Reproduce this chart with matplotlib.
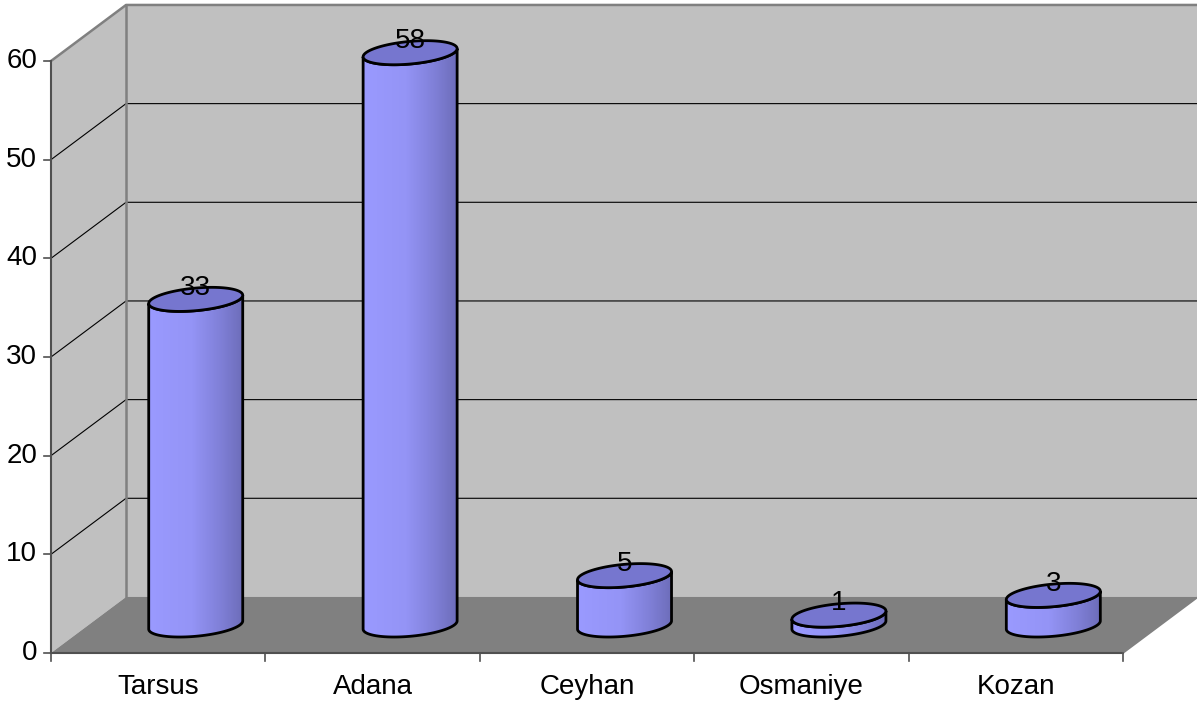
import numpy as np
import matplotlib
matplotlib.use("Agg")
import matplotlib.pyplot as plt
from matplotlib.patches import Polygon
from matplotlib.colors import LinearSegmentedColormap

plt.rcParams['font.family'] = ['Liberation Sans', 'DejaVu Sans']

categories = ['Tarsus', 'Adana', 'Ceyhan', 'Osmaniye', 'Kozan']
values = [33, 58, 5, 1, 3]
yticks = [0, 10, 20, 30, 40, 50, 60]
ymax = 60

# 3d look: depth offset in data units (x in categories, y in values)
DX, DY = 0.35, 5.68
# cylinder cross-section (oblique projected circle)
A, B, C = 0.206, 0.075, 1.22

W, H = 1197, 704
fig = plt.figure(figsize=(W / 100, H / 100), dpi=100)
ax = fig.add_axes([0, 0, 1, 1])
ax.axis('off')

n = len(categories)
wall = '#c0c0c0'
edge = '#808080'
fs = 20

# walls and floor
ax.add_patch(Polygon([(0, 0), (DX, DY), (DX, ymax + DY), (0, ymax)], fc=wall, ec='none', zorder=1))
ax.add_patch(Polygon([(DX, DY), (n + DX, DY), (n + DX, ymax + DY), (DX, ymax + DY)], fc=wall, ec='none', zorder=1))
ax.add_patch(Polygon([(0, 0), (n, 0), (n + DX, DY), (DX, DY)], fc='#808080', ec='none', zorder=1))

# gridlines
for v in yticks[1:-1]:
    ax.plot([0, DX, n + DX], [v, v + DY, v + DY], color='black', lw=0.8, zorder=2)
ax.plot([0, DX, n + DX], [ymax, ymax + DY, ymax + DY], color=edge, lw=1.8, zorder=2)
ax.plot([DX, DX], [DY, ymax + DY], color=edge, lw=1.8, zorder=2)

# axes lines and ticks
ax.plot([0, 0], [0, ymax], color='#505050', lw=1.5, zorder=3)
ax.plot([0, n], [0, 0], color='#505050', lw=1.5, zorder=3)
ax.plot([n, n + DX], [0, DY], color=edge, lw=1.2, zorder=3)
for v in yticks:
    ax.plot([-0.033, 0], [v, v], color='#505050', lw=1.2, zorder=3)
    ax.text(-0.065, v, str(v), ha='right', va='center', fontsize=fs)
for i in range(n + 1):
    ax.plot([i, i], [0, -0.8], color='#505050', lw=1.2, zorder=3)
for i, cat in enumerate(categories):
    ax.text(i + 0.5, -3.4, cat, ha='center', va='center', fontsize=fs)

cmap = LinearSegmentedColormap.from_list(
    'cyl', [(0, '#9a9aff'), (0.45, '#9494f6'), (0.75, '#8080d8'), (1, '#6c6cb8')])
grad = np.linspace(0, 1, 256).reshape(1, -1)

tR = np.arctan2(B, A)
half = np.hypot(A, B)


def ell(cx, cy, t):
    return cx + A * np.cos(t) + B * np.sin(t), cy + C * np.sin(t)


for i, v in enumerate(values):
    cx = i + 0.5 + DX / 2
    cy0 = DY / 2
    cy1 = cy0 + v
    t = np.linspace(tR + np.pi, tR + 2 * np.pi, 80)
    bx, by = ell(cx, cy0, t)
    tx, ty = ell(cx, cy1, t[::-1])
    body = np.column_stack([np.r_[bx, tx], np.r_[by, ty]])
    patch = Polygon(body, closed=True, fc='none', ec='black', lw=2, zorder=5)
    ax.add_patch(patch)
    im = ax.imshow(grad, cmap=cmap, extent=(cx - half, cx + half, cy0 - C * 1.5, cy1 + C),
                   aspect='auto', zorder=4)
    im.set_clip_path(patch)
    tt = np.linspace(0, 2 * np.pi, 160)
    ex, ey = ell(cx, cy1, tt)
    ax.add_patch(Polygon(np.column_stack([ex, ey]), closed=True, fc='#7676cf',
                         ec='black', lw=2, zorder=6))
    ax.text(cx, cy1 + 1.2, str(v), ha='center', va='center', fontsize=fs, zorder=7)

ax.set_xlim(-51 / 214.4, (W - 51) / 214.4)
ax.set_ylim(-(H - 653) / 9.867, ymax + 61 / 9.867)

fig.savefig('out.png', dpi=100, facecolor='white')
